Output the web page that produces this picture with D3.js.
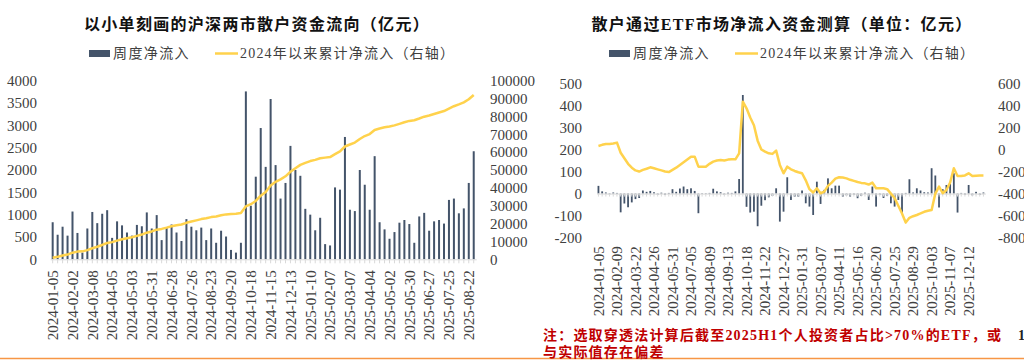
<!DOCTYPE html>
<html><head><meta charset="utf-8">
<script src="https://cdn.jsdelivr.net/npm/d3@7"></script>
<style>
html,body{margin:0;padding:0;background:#fff;}
svg{display:block;}
</style></head><body>
<svg id="c" width="1024" height="360"></svg>
<script>
// ---------- DATA ----------
const weeks = [
"2024-01-05","2024-01-12","2024-01-19","2024-01-26","2024-02-02","2024-02-09","2024-02-23","2024-03-01","2024-03-08","2024-03-15",
"2024-03-22","2024-03-29","2024-04-05","2024-04-12","2024-04-19","2024-04-26","2024-05-03","2024-05-10","2024-05-17","2024-05-24",
"2024-05-31","2024-06-07","2024-06-14","2024-06-21","2024-06-28","2024-07-05","2024-07-12","2024-07-19","2024-07-26","2024-08-02",
"2024-08-09","2024-08-16","2024-08-23","2024-08-30","2024-09-06","2024-09-13","2024-09-20","2024-09-27","2024-10-04","2024-10-11",
"2024-10-18","2024-10-25","2024-11-01","2024-11-08","2024-11-15","2024-11-22","2024-11-29","2024-12-06","2024-12-13","2024-12-20",
"2024-12-27","2025-01-03","2025-01-10","2025-01-17","2025-01-24","2025-01-31","2025-02-07","2025-02-14","2025-02-21","2025-02-28",
"2025-03-07","2025-03-14","2025-03-21","2025-03-28","2025-04-04","2025-04-11","2025-04-18","2025-04-25","2025-05-02","2025-05-09",
"2025-05-16","2025-05-23","2025-05-30","2025-06-06","2025-06-13","2025-06-20","2025-06-27","2025-07-04","2025-07-11","2025-07-18",
"2025-07-25","2025-08-01","2025-08-08","2025-08-15","2025-08-22","2025-08-29","2025-09-05","2025-09-12","2025-09-19","2025-09-26",
"2025-10-03","2025-10-10","2025-10-17","2025-10-24","2025-10-31","2025-11-07","2025-11-14","2025-11-21","2025-11-28","2025-12-05",
"2025-12-12","2025-12-19","2025-12-26","2026-01-02","2026-01-09"
];

// Left chart: weekly net inflow of small orders (亿元)
const leftWeeks = weeks.slice(0, 86);
const leftWeekly = [
830,550,730,530,1070,590,150,690,1060,810,
1020,1100,480,850,760,600,530,770,740,1050,
690,990,430,710,780,600,410,900,730,650,
710,430,690,370,640,510,210,150,370,3760,
1200,1850,2940,2070,3590,2110,1360,1710,2540,2000,
1870,1130,1000,650,930,340,310,1610,1560,2740,
1110,1080,2000,1670,1110,2310,830,670,460,610,
820,880,790,370,960,1040,640,850,880,800,
1330,1360,1030,1140,1710,2420
];
const leftCumulative = [
830,1380,2110,2640,3710,4300,4450,5140,6200,7010,
8030,9130,9610,10460,11220,11820,12350,13120,13860,14910,
15600,16590,17020,17730,18510,19110,19520,20420,21150,21800,
22510,22940,23630,24000,24640,25150,25360,25510,25880,29640,
30840,32690,35630,37700,41290,43400,44760,46470,49010,51010,
52880,54010,55010,55660,56590,56930,57240,58850,60410,63150,
64260,65340,67340,69010,70120,72430,73260,73930,74390,75000,
75820,76700,77490,77860,78820,79860,80500,81350,82230,83030,
84360,85720,86750,87890,89600,92020
];
const leftXLabels = ["2024-01-05","2024-02-02","2024-03-08","2024-04-05","2024-05-03","2024-05-31","2024-06-28","2024-07-26","2024-08-23","2024-09-20","2024-10-18","2024-11-15","2024-12-13","2025-01-10","2025-02-07","2025-03-07","2025-04-04","2025-05-02","2025-05-30","2025-06-27","2025-07-25","2025-08-22"];
const leftYTicks = [0,500,1000,1500,2000,2500,3000,3500,4000];
const leftY2Ticks = [0,10000,20000,30000,40000,50000,60000,70000,80000,90000,100000];

// Right chart: ETF retail net inflow (亿元)
const rightWeeks = weeks;
const rightWeekly = [
35,10,5,-3,5,3,-85,-45,-62,-40,
-25,-20,14,8,12,6,-5,4,-6,3,
20,8,23,32,20,24,12,-89,2,-2,
3,22,10,6,-5,4,3,10,66,447,
-60,-86,-82,-148,-55,-30,-17,-10,24,-127,
-82,74,-29,-14,-14,14,-44,-59,-97,54,
-47,17,69,24,36,36,-14,-8,-14,-5,
-21,-10,4,-29,32,-59,-5,-20,-10,-44,
-59,-29,-89,3,65,5,24,14,6,5,
115,82,-63,20,39,44,92,-86,3,-5,
39,-8,8,-6,5
];
const rightCumulative = [
32,42,50,50,55,62,-30,-80,-130,-165,
-190,-200,-185,-175,-162,-170,-180,-190,-200,-205,
-185,-165,-140,-115,-90,-65,-65,-156,-156,-156,
-130,-110,-100,-95,-100,-92,-89,-89,-35,433,
373,290,220,80,0,-20,-35,-40,-10,-140,
-216,-156,-180,-195,-207,-216,-280,-360,-390,-352,
-397,-382,-330,-300,-265,-252,-255,-262,-275,-285,
-295,-303,-307,-318,-301,-352,-352,-352,-360,-400,
-440,-510,-580,-663,-620,-605,-594,-580,-565,-555,
-548,-400,-337,-397,-367,-300,-170,-240,-240,-235,
-216,-240,-238,-237,-237
];
const rightXLabels = ["2024-01-05","2024-02-09","2024-03-22","2024-04-26","2024-05-31","2024-07-05","2024-08-09","2024-09-13","2024-10-18","2024-11-22","2024-12-27","2025-01-31","2025-03-07","2025-04-11","2025-05-16","2025-06-20","2025-07-25","2025-08-29","2025-10-03","2025-11-07","2025-12-12"];
const rightYTicks = [-200,-100,0,100,200,300,400,500];
const rightY2Ticks = [-800,-600,-400,-200,0,200,400,600];

const titleLeft = "以小单刻画的沪深两市散户资金流向（亿元）";
const titleRight = "散户通过ETF市场净流入资金测算（单位：亿元）";
const legendBar = "周度净流入";
const legendLine = "2024年以来累计净流入（右轴）";
const footnote1 = "注：选取穿透法计算后截至2025H1个人投资者占比>70%的ETF，或";
const footnote2 = "与实际值存在偏差";

// ---------- STYLE ----------
const BAR = "#44546A", LINE = "#FFD24C", AXIS = "#d9d9d9", TXT = "#404040";
const NUM = "'Liberation Serif','Times New Roman',serif";
const CJK = "'Liberation Serif','Noto Sans CJK SC',sans-serif";

const svg = d3.select("#c");

function styleNumAxis(g){
  g.select(".domain").remove();
  g.selectAll("text").attr("fill", TXT).style("font-family", NUM).style("font-size","15px");
}

function legend(x0, y0){
  const g = svg.append("g");
  g.append("rect").attr("x", x0).attr("y", y0-3.5).attr("width", 21).attr("height", 7).attr("fill", BAR);
  g.append("text").attr("x", x0+24).attr("y", y0).attr("dy","0.35em")
    .style("font-family", CJK).style("font-size","14px").style("letter-spacing","1.4px")
    .attr("fill", TXT).text(legendBar);
  g.append("line").attr("x1", x0+126).attr("x2", x0+149).attr("y1", y0).attr("y2", y0)
    .attr("stroke", LINE).attr("stroke-width", 2.5);
  g.append("text").attr("x", x0+151).attr("y", y0).attr("dy","0.35em")
    .style("font-family", CJK).style("font-size","14px").style("letter-spacing","1.2px")
    .attr("fill", TXT).text(legendLine);
}

function title(cx, text){
  svg.append("text").attr("x", cx).attr("y", 24).attr("dy","0.35em")
    .attr("text-anchor","middle")
    .style("font-family", CJK).style("font-size","16px").style("font-weight","bold")
    .style("letter-spacing","1.3px").attr("fill","#111").text(text);
}

// ---------- LEFT CHART ----------
{
  const x = d3.scaleBand().domain(leftWeeks).range([50.2, 476.2]);
  const y = d3.scaleLinear().domain([0, 4000]).range([259.3, 80.7]);
  const y2 = d3.scaleLinear().domain([0, 100000]).range([259.3, 80.7]);
  const cx = d => x(d) + x.bandwidth()/2;

  title(257, titleLeft);
  legend(89, 53.5);

  svg.append("g").selectAll("rect").data(leftWeeks).join("rect")
    .attr("x", d => cx(d) - 1).attr("width", 2)
    .attr("y", (d,i) => y(leftWeekly[i]))
    .attr("height", (d,i) => y(0) - y(leftWeekly[i]))
    .attr("fill", BAR);

  const gx = svg.append("g").attr("transform", `translate(0,${y(0)})`)
    .call(d3.axisBottom(x).tickSize(4).tickSizeOuter(0)
      .tickFormat(d => leftXLabels.includes(d) ? d : ""));
  gx.select(".domain").attr("stroke", AXIS);
  gx.selectAll("line").attr("stroke", AXIS);
  gx.selectAll("text").attr("transform","rotate(-90)").attr("x",-11).attr("y",0).attr("dy","0.35em")
    .style("text-anchor","end").style("font-family", NUM).style("font-size","15px").attr("fill", TXT);

  svg.append("path").datum(leftWeeks)
    .attr("fill","none").attr("stroke", LINE).attr("stroke-width", 2.5).attr("stroke-linejoin","round")
    .attr("d", d3.line().x(d => cx(d)).y((d,i) => y2(leftCumulative[i])));

  svg.append("g").attr("transform","translate(40,0)")
    .call(d3.axisLeft(y).tickValues(leftYTicks).tickSize(0).tickPadding(3).tickFormat(d => String(d)))
    .call(styleNumAxis);
  svg.append("g").attr("transform","translate(487,0)")
    .call(d3.axisRight(y2).tickValues(leftY2Ticks).tickSize(0).tickPadding(3).tickFormat(d => String(d)))
    .call(styleNumAxis);
}

// ---------- RIGHT CHART ----------
{
  const x = d3.scaleBand().domain(rightWeeks).range([596.6, 985.3]);
  const y = d3.scaleLinear().domain([-200, 500]).range([237.7, 83.3]);
  const y2 = d3.scaleLinear().domain([-800, 600]).range([237.7, 83.3]);
  const cx = d => x(d) + x.bandwidth()/2;

  title(782, titleRight);
  legend(609, 53.5);

  svg.append("g").selectAll("rect").data(rightWeeks).join("rect")
    .attr("x", d => cx(d) - 0.9).attr("width", 1.8)
    .attr("y", (d,i) => Math.min(y(rightWeekly[i]), y(0)))
    .attr("height", (d,i) => Math.abs(y(0) - y(rightWeekly[i])))
    .attr("fill", BAR);

  const gz = svg.append("g").attr("transform", `translate(0,${y(0)})`)
    .call(d3.axisBottom(x).tickSize(3).tickSizeOuter(0).tickFormat(""));
  gz.select(".domain").attr("stroke", AXIS);
  gz.selectAll("line").attr("stroke", AXIS);

  const gl = svg.append("g").attr("transform", `translate(0,${y(-200)})`)
    .call(d3.axisBottom(x).tickValues(rightXLabels).tickSize(0));
  gl.select(".domain").remove();
  gl.selectAll("text").attr("transform","rotate(-90)").attr("x",-8.5).attr("y",0).attr("dy","0.35em")
    .style("text-anchor","end").style("font-family", NUM).style("font-size","15px").attr("fill", TXT);

  svg.append("path").datum(rightWeeks)
    .attr("fill","none").attr("stroke", LINE).attr("stroke-width", 2.5).attr("stroke-linejoin","round")
    .attr("d", d3.line().x(d => cx(d)).y((d,i) => y2(rightCumulative[i])));

  svg.append("g").attr("transform","translate(585,0)")
    .call(d3.axisLeft(y).tickValues(rightYTicks).tickSize(0).tickPadding(3).tickFormat(d => String(d)))
    .call(styleNumAxis);
  svg.append("g").attr("transform","translate(995,0)")
    .call(d3.axisRight(y2).tickValues(rightY2Ticks).tickSize(0).tickPadding(3).tickFormat(d => String(d)))
    .call(styleNumAxis);
}

// ---------- FOOTNOTE ----------
svg.append("line").attr("x1",0).attr("x2",1024).attr("y1",358.5).attr("y2",358.5)
  .attr("stroke","#F79646").attr("stroke-width",1.5);
svg.append("text").attr("x",543).attr("y",340)
  .style("font-family", CJK).style("font-size","14px").style("font-weight","bold")
  .style("letter-spacing","1.2px").attr("fill","#C00000").text(footnote1);
svg.append("text").attr("x",543).attr("y",357)
  .style("font-family", CJK).style("font-size","14px").style("font-weight","bold")
  .style("letter-spacing","1.2px").attr("fill","#C00000").text(footnote2);
svg.append("text").attr("x",1018).attr("y",340)
  .style("font-family", NUM).style("font-size","14px").style("font-weight","bold")
  .attr("fill","#222").text("1");
</script>
</body></html>
